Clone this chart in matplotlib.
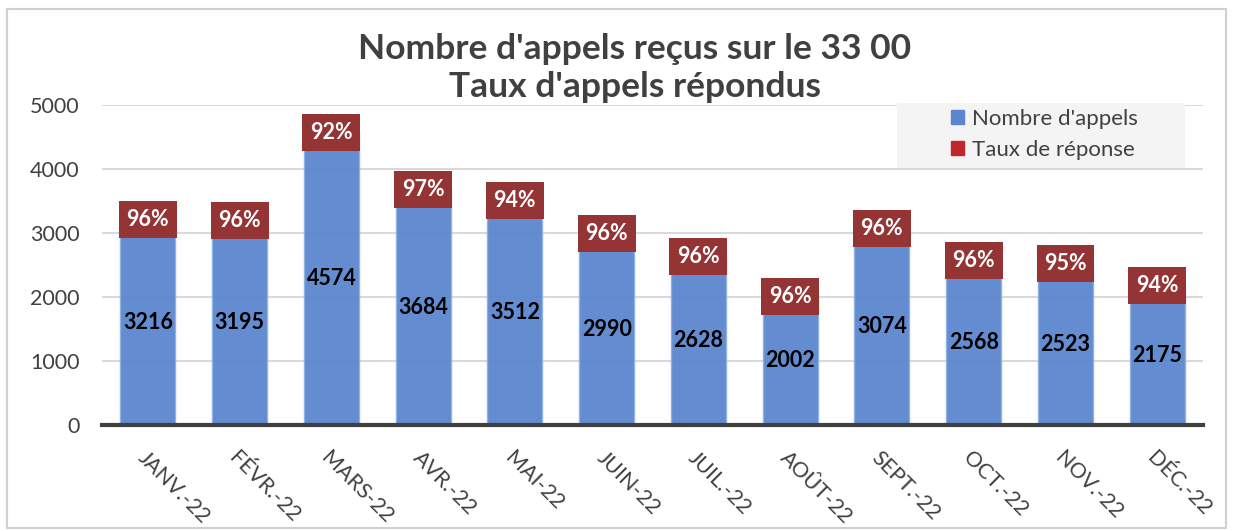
import matplotlib.pyplot as plt
from matplotlib.patches import Patch, Rectangle

plt.rcParams['font.family'] = ['Lato', 'DejaVu Sans']

mois = ["JANV.-22", "FÉVR.-22", "MARS-22", "AVR.-22", "MAI-22", "JUIN-22",
        "JUIL.-22", "AOÛT-22", "SEPT.-22", "OCT.-22", "NOV.-22", "DÉC.-22"]
appels = [3216, 3195, 4574, 3684, 3512, 2990, 2628, 2002, 3074, 2568, 2523, 2175]
taux = [96, 96, 92, 97, 94, 96, 96, 96, 96, 96, 95, 94]

bleu = "#5b86cf"
rouge_box = "#943434"
rouge_leg = "#c0262b"
gris = "#404040"

fig = plt.figure(figsize=(12.33, 5.31), dpi=100)
ax = fig.add_axes([0.0827, 0.1996, 0.893, 0.6027])

x = range(len(mois))
ax.bar(x, appels, width=0.6, color=bleu, alpha=0.95, edgecolor="#8fb0e4",
       linewidth=1, zorder=2)

# boites rouges centrees sur le haut de chaque barre
box_h = 580
ax.bar(x, [box_h] * len(mois), bottom=[v - box_h / 2 for v in appels],
       width=0.63, color=rouge_box, zorder=3, clip_on=False)

for i, (v, t) in enumerate(zip(appels, taux)):
    ax.text(i, v, f"{t}%", ha="center", va="center", color="white",
            fontsize=15.5, fontweight="bold", zorder=4)
    ax.text(i, v / 2, str(v), ha="center", va="center", color="black",
            fontsize=15.5, fontweight="bold", zorder=4)

ax.set_xlim(-0.5, len(mois) - 0.5)
ax.set_ylim(0, 5000)
ax.set_yticks(range(0, 5001, 1000))
ax.yaxis.grid(True, color="#d9d9d9", linewidth=1.5, zorder=0)
ax.set_axisbelow(True)
for s in ["left", "right", "top"]:
    ax.spines[s].set_visible(False)
ax.spines["bottom"].set_color(gris)
ax.spines["bottom"].set_linewidth(3)
ax.tick_params(axis="both", length=0, colors=gris, labelsize=15.5)
ax.tick_params(axis="y", pad=16)
ax.set_xticks(list(x))
ax.set_xticklabels(mois, rotation=-45, ha="left", va="top",
                   rotation_mode="anchor", fontsize=15.5, color=gris)
ax.tick_params(axis="x", pad=16)

fig.text(0.515, 0.872, "Nombre d'appels reçus sur le 33 00\nTaux d'appels répondus",
         ha="center", va="center", fontsize=25.5, fontweight="bold", color=gris,
         linespacing=1.22)

# fond de legende
ax.add_patch(Rectangle((0.722, 0.803), 0.262, 0.203, transform=ax.transAxes,
                       facecolor="#f4f4f4", edgecolor="none", zorder=1,
                       clip_on=False))
handles = [Patch(color=bleu), Patch(color=rouge_leg)]
leg = ax.legend(handles, ["Nombre d'appels", "Taux de réponse"],
                loc="upper left", bbox_to_anchor=(0.765, 1.008), frameon=False,
                fontsize=16, handlelength=0.6, handleheight=0.6,
                handletextpad=0.35, borderpad=0.3, labelspacing=0.5,
                borderaxespad=0)
for t in leg.get_texts():
    t.set_color(gris)

fig.patches.append(Rectangle((0.006, 0.005), 0.988, 0.978, transform=fig.transFigure,
                             fill=False, edgecolor="#d0d0d0", linewidth=1.5))

fig.savefig("out.png", dpi=100)
